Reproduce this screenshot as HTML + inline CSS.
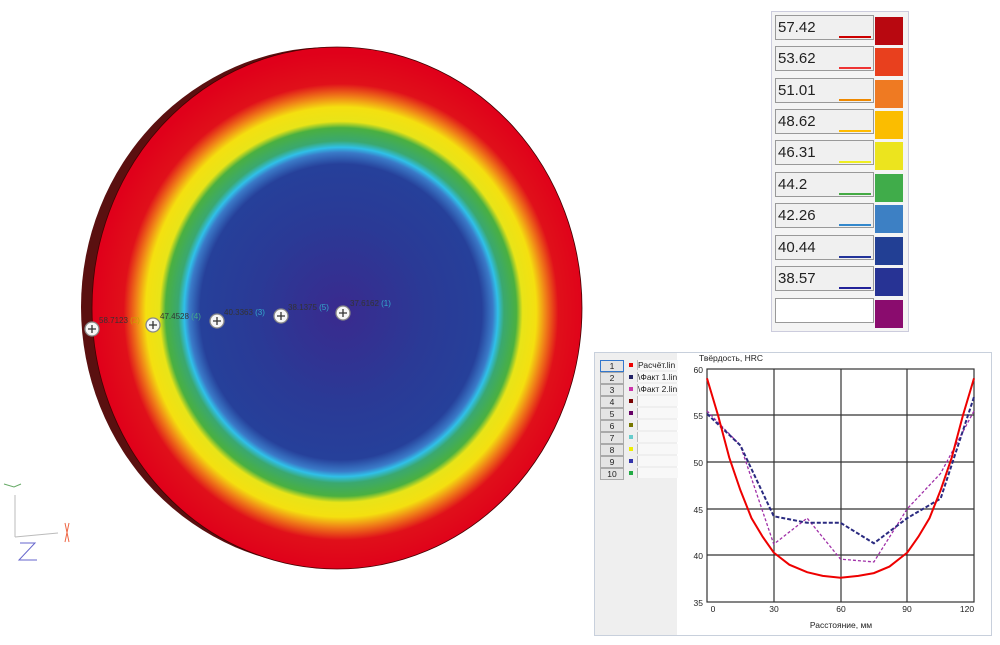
<!DOCTYPE html>
<html><head><meta charset="utf-8"><style>
body{margin:0;background:#fff;width:1000px;height:645px;overflow:hidden;position:relative;font-family:"Liberation Sans",sans-serif}
.cb{position:absolute;left:771px;top:11px;width:136px;height:319px;border:1px solid #ccd;background:#f4f4f4}
.row{position:absolute;left:3px;width:99px;height:25px;border:1px solid #999;background:#f0f0f0;font-size:15px;color:#222;line-height:24px;padding-left:2px;box-sizing:border-box}
.row i{position:absolute;right:2px;bottom:1px;width:32px;height:2px;background:#000}
.sw{position:absolute;left:103px;width:28px;height:28px}
.lg{position:absolute;left:594px;top:352px;width:396px;height:282px;border:1px solid #c8d0dc;background:#fff}
.lp{position:absolute;left:0;top:0;width:82px;height:282px;background:#efefef}
.lr{position:absolute;left:5px;height:10px;font-size:8.5px;color:#222;white-space:nowrap}
.lr b{position:absolute;left:0;width:22px;height:10px;border:1px solid #aaa;background:#e4e4e4;font-weight:normal;text-align:center;line-height:10px}
.lr s{position:absolute;left:29px;top:3px;width:4px;height:4px}
.lr u{position:absolute;left:37px;width:40px;height:10px;background:#f8f8f8;border-left:1px solid #bbb;text-decoration:none;line-height:10px;overflow:hidden;white-space:nowrap}
</style></head><body>
<svg width="600" height="645" style="position:absolute;left:0;top:0">
<defs>
<radialGradient id="g" cx="341" cy="312" r="247" gradientUnits="userSpaceOnUse" gradientTransform="translate(341 312) scale(1 1.05) translate(-341 -312)">
<stop offset="0" stop-color="#3a2a8e"/>
<stop offset="0.35" stop-color="#2a3a96"/>
<stop offset="0.57" stop-color="#26409a"/>
<stop offset="0.615" stop-color="#3a7ac8"/>
<stop offset="0.635" stop-color="#30c0e8"/>
<stop offset="0.66" stop-color="#3aa870"/>
<stop offset="0.71" stop-color="#4ab040"/>
<stop offset="0.735" stop-color="#e8e418"/>
<stop offset="0.79" stop-color="#f4e010"/>
<stop offset="0.83" stop-color="#f08018"/>
<stop offset="0.88" stop-color="#e0101a"/>
<stop offset="1" stop-color="#e0001a"/>
</radialGradient>
</defs>
<ellipse cx="331" cy="307" rx="250" ry="260" fill="#5a1010"/>
<ellipse cx="337" cy="308" rx="245" ry="261" fill="url(#g)" stroke="#400" stroke-width="0.8"/>
<g font-size="8" fill="#333">
<text x="99" y="323">58.7123 <tspan fill="#c8a000">(2)</tspan></text>
<text x="160" y="319">47.4528 <tspan fill="#4a8">(4)</tspan></text>
<text x="224" y="315">40.3363 <tspan fill="#3ac">(3)</tspan></text>
<text x="288" y="310">38.1375 <tspan fill="#3ac">(5)</tspan></text>
<text x="350" y="306">37.6162 <tspan fill="#3ac">(1)</tspan></text>
</g>
<g stroke="#333" stroke-width="1.3">
<g transform="translate(92,329)"><circle r="7" fill="#f6f6f6" stroke="#888"/><path d="M-4 0H4M0 -4V4"/></g>
<g transform="translate(153,325)"><circle r="7" fill="#f6f6f6" stroke="#888"/><path d="M-4 0H4M0 -4V4"/></g>
<g transform="translate(217,321)"><circle r="7" fill="#f6f6f6" stroke="#888"/><path d="M-4 0H4M0 -4V4"/></g>
<g transform="translate(281,316)"><circle r="7" fill="#f6f6f6" stroke="#888"/><path d="M-4 0H4M0 -4V4"/></g>
<g transform="translate(343,313)"><circle r="7" fill="#f6f6f6" stroke="#888"/><path d="M-4 0H4M0 -4V4"/></g>
</g>
<g fill="none" stroke-width="1">
<path d="M15 537V495" stroke="#bbb"/><path d="M15 537L58 533" stroke="#bbb"/>
<path d="M4 484L14 487L21 484" stroke="#6a6"/>
<path d="M65 523L69 542M69 523L65 542" stroke="#e64"/>
<path d="M20 543H35L19 560H37" stroke="#66c"/>
</g>
</svg>

<div class="cb">
<div class="row" style="top:3px">57.42<i style="background:#c00"></i></div><div class="sw" style="top:5px;background:#b80810"></div>
<div class="row" style="top:34px">53.62<i style="background:#e33"></i></div><div class="sw" style="top:36px;background:#e8401e"></div>
<div class="row" style="top:66px">51.01<i style="background:#e80"></i></div><div class="sw" style="top:68px;background:#ef7a22"></div>
<div class="row" style="top:97px">48.62<i style="background:#fb0"></i></div><div class="sw" style="top:99px;background:#fbbd00"></div>
<div class="row" style="top:128px">46.31<i style="background:#ee2"></i></div><div class="sw" style="top:130px;background:#ece41e"></div>
<div class="row" style="top:160px">44.2<i style="background:#4a4"></i></div><div class="sw" style="top:162px;background:#40ac4a"></div>
<div class="row" style="top:191px">42.26<i style="background:#38c"></i></div><div class="sw" style="top:193px;background:#3d80c4"></div>
<div class="row" style="top:223px">40.44<i style="background:#239"></i></div><div class="sw" style="top:225px;background:#223f94"></div>
<div class="row" style="top:254px">38.57<i style="background:#229"></i></div><div class="sw" style="top:256px;background:#273394"></div>
<div class="row" style="top:286px;background:#fff"></div><div class="sw" style="top:288px;background:#8a0c6e"></div>
</div>

<div class="lg"><div class="lp">
<div class="lr" style="top:7px"><b style="border-color:#37c">1</b><s style="background:#e00"></s><u>Расчёт.lin</u></div>
<div class="lr" style="top:19px"><b>2</b><s style="background:#226"></s><u>\Факт 1.lin</u></div>
<div class="lr" style="top:31px"><b>3</b><s style="background:#c3a"></s><u>\Факт 2.lin</u></div>
<div class="lr" style="top:43px"><b>4</b><s style="background:#700"></s><u></u></div>
<div class="lr" style="top:55px"><b>5</b><s style="background:#606"></s><u></u></div>
<div class="lr" style="top:67px"><b>6</b><s style="background:#770"></s><u></u></div>
<div class="lr" style="top:79px"><b>7</b><s style="background:#6cc"></s><u></u></div>
<div class="lr" style="top:91px"><b>8</b><s style="background:#ee0"></s><u></u></div>
<div class="lr" style="top:103px"><b>9</b><s style="background:#33a"></s><u></u></div>
<div class="lr" style="top:115px"><b>10</b><s style="background:#2a4"></s><u></u></div>
</div></div>

<svg width="1000" height="645" style="position:absolute;left:0;top:0" font-size="8.5" fill="#222">
<text x="699" y="361">Твёрдость, HRC</text>
<g stroke="#333" stroke-width="1.2">
<path d="M707 415H974M707 462H974M707 509H974M707 555H974M774 369V602M841 369V602M907 369V602"/>
<rect x="707" y="369" width="267" height="233" fill="none"/>
</g>
<g text-anchor="end"><text x="703" y="373">60</text><text x="703" y="419">55</text><text x="703" y="466">50</text><text x="703" y="513">45</text><text x="703" y="559">40</text><text x="703" y="606">35</text></g>
<g text-anchor="middle"><text x="713" y="612">0</text><text x="774" y="612">30</text><text x="841" y="612">60</text><text x="907" y="612">90</text><text x="967" y="612">120</text>
<text x="841" y="628">Расстояние, мм</text></g>
<g transform="translate(707,369) scale(2.225,-9.32) translate(0,-60)" fill="none">
<polyline vector-effect="non-scaling-stroke" stroke="#a030a8" stroke-width="1.3" stroke-dasharray="3,2" points="0,55.5 15,51.8 30,41.2 45,44 60,39.6 75,39.3 90,45 105,48.8 120,55.5"/>
<polyline vector-effect="non-scaling-stroke" stroke="#2a2a80" stroke-width="2" stroke-dasharray="4,2" points="0,55.2 15,51.8 30,44.2 45,43.5 60,43.5 75,41.3 90,44 105,46.1 120,57"/>
<polyline vector-effect="non-scaling-stroke" stroke="#e00" stroke-width="2" points="0,59 5,55 10,50.5 15,47 20,44 25,42 30,40.3 37,39 45,38.2 52,37.8 60,37.6 68,37.8 75,38.1 82,38.8 90,40.3 95,42 100,44 105,47 110,50.5 115,55 120,59"/>
</g>
</svg>
</body></html>
